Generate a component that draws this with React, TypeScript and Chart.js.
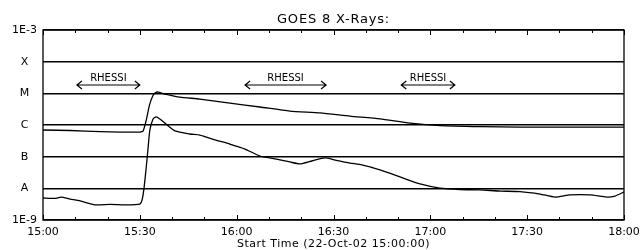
import React, { useEffect, useRef } from "react";
import { Chart, registerables } from "chart.js";

Chart.register(...registerables);

// minutes after 15:00
const longTimes = [0, 8.4, 17.7, 23.9, 30, 31, 32, 33, 34, 34.7, 35.6, 37.8, 42.4, 48.6, 57.9, 67.2, 76.5, 85.8, 95.1, 104.4, 113.7, 123, 135.4, 147.8, 166.4, 180];
const longFlux = [6.95e-7, 6.7e-7, 6.2e-7, 6.0e-7, 6.0e-7, 6.4e-7, 1.44e-6, 4.3e-6, 8.2e-6, 1.02e-5, 1.1e-5, 9.5e-6, 7.6e-6, 6.6e-6, 4.9e-6, 3.7e-6, 2.76e-6, 2.4e-6, 1.9e-6, 1.55e-6, 1.15e-6, 9.6e-7, 8.9e-7, 8.6e-7, 8.6e-7, 8.6e-7];

const shortTimes = [0, 3.7, 5.6, 8.4, 11.5, 16.1, 20.8, 25.4, 30, 30.7, 31.3, 31.9, 32.5, 33.1, 34.1, 35, 36.2, 38.1, 40.9, 45.5, 48.6, 53.3, 57.9, 62.6, 67.2, 71.9, 76.5, 79.6, 83.3, 87.4, 90.5, 95.1, 98.8, 104.4, 110.6, 116.8, 123, 129.2, 135.4, 141.6, 147.8, 154, 158.6, 163.3, 169.5, 174.7, 177.2, 180];
const shortFlux = [4.95e-9, 4.8e-9, 5.3e-9, 4.6e-9, 4.0e-9, 3.0e-9, 3.1e-9, 3.0e-9, 3.2e-9, 4.3e-9, 1.02e-8, 3.8e-8, 1.62e-7, 6.9e-7, 1.55e-6, 1.8e-6, 1.55e-6, 1.07e-6, 6.5e-7, 5.2e-7, 4.8e-7, 3.4e-7, 2.5e-7, 1.74e-7, 1.05e-7, 8.5e-8, 6.8e-8, 5.9e-8, 7.3e-8, 9.1e-8, 7.8e-8, 6.3e-8, 5.5e-8, 3.8e-8, 2.3e-8, 1.38e-8, 1.02e-8, 9.2e-9, 8.9e-9, 8.2e-9, 7.9e-9, 6.6e-9, 5.3e-9, 6.2e-9, 6.2e-9, 5.3e-9, 5.7e-9, 7.7e-9];

const yTickValues = [1e-9, 1e-8, 1e-7, 1e-6, 1e-5, 1e-4, 1e-3];
const yTickLabels = ["1E-9", "A", "B", "C", "M", "X", "1E-3"];
const xTickLabels = ["15:00", "15:30", "16:00", "16:30", "17:00", "17:30", "18:00"];

const rhessiStart = [10.5, 62.6, 111];
const rhessiEnd = [30, 87.7, 127.6];
const rhessiLevel = 1.83e-5;

const titleText = "GOES 8 X-Rays:";
const xTitleText = "Start Time (22-Oct-02 15:00:00)";

const FONT = "'DejaVu Sans', sans-serif";

export default function App() {
  const ref = useRef<HTMLCanvasElement | null>(null);
  useEffect(() => {
    const canvas = ref.current;
    if (!canvas) return;
    const decorations = {
      id: "decorations",
      afterDraw(chart: any) {
        const { ctx, chartArea } = chart;
        const xs = chart.scales.x;
        const ys = chart.scales.y;
        ctx.save();
        ctx.strokeStyle = "#000";
        ctx.fillStyle = "#000";
        // frame
        ctx.lineWidth = 1.3;
        ctx.strokeRect(chartArea.left, chartArea.top, chartArea.right - chartArea.left, chartArea.bottom - chartArea.top);
        // inward ticks
        ctx.lineWidth = 1;
        for (let m = 0; m <= 180; m += 10) {
          const px = Math.round(xs.getPixelForValue(m)) + 0.5;
          const len = m % 30 === 0 ? 5 : 3;
          ctx.beginPath();
          ctx.moveTo(px, chartArea.bottom);
          ctx.lineTo(px, chartArea.bottom - len);
          ctx.moveTo(px, chartArea.top);
          ctx.lineTo(px, chartArea.top + len);
          ctx.stroke();
        }
        // titles
        ctx.textAlign = "center";
        ctx.textBaseline = "middle";
        try { (ctx as any).letterSpacing = "0.8px"; } catch (e) {}
        ctx.font = "13px " + FONT;
        ctx.fillText(titleText, (chartArea.left + chartArea.right) / 2, 20);
        try { (ctx as any).letterSpacing = "0.5px"; } catch (e) {}
        ctx.font = "11px " + FONT;
        ctx.fillText(xTitleText, (chartArea.left + chartArea.right) / 2, 244);
        try { (ctx as any).letterSpacing = "0px"; } catch (e) {}
        // RHESSI arrows
        const py = ys.getPixelForValue(rhessiLevel);
        ctx.lineWidth = 1.2;
        ctx.font = "10px " + FONT;
        ctx.textBaseline = "alphabetic";
        for (let i = 0; i < rhessiStart.length; i++) {
          const x0 = xs.getPixelForValue(rhessiStart[i]);
          const x1 = xs.getPixelForValue(rhessiEnd[i]);
          ctx.beginPath();
          ctx.moveTo(x0, py);
          ctx.lineTo(x1, py);
          ctx.moveTo(x0 + 5, py - 4);
          ctx.lineTo(x0, py);
          ctx.lineTo(x0 + 5, py + 4);
          ctx.moveTo(x1 - 5, py - 4);
          ctx.lineTo(x1, py);
          ctx.lineTo(x1 - 5, py + 4);
          ctx.stroke();
          ctx.fillText("RHESSI", (x0 + x1) / 2, py - 4);
        }
        ctx.restore();
      },
    };
    const chart = new Chart(canvas, {
      type: "line",
      data: {
        datasets: [
          {
            data: longTimes.map((t, i) => ({ x: t, y: longFlux[i] })),
            borderColor: "#000",
            borderWidth: 1.3,
            pointRadius: 0,
            tension: 0.2,
          },
          {
            data: shortTimes.map((t, i) => ({ x: t, y: shortFlux[i] })),
            borderColor: "#000",
            borderWidth: 1.3,
            pointRadius: 0,
            tension: 0.2,
          },
        ],
      },
      options: {
        animation: false,
        responsive: false,
        devicePixelRatio: 1,
        layout: { padding: { left: 0, right: 17, top: 30, bottom: 0 } },
        plugins: { legend: { display: false }, tooltip: { enabled: false }, title: { display: false } },
        scales: {
          x: {
            type: "linear",
            min: 0,
            max: 180,
            grid: { display: false, drawTicks: false },
            border: { display: false },
            ticks: {
              stepSize: 30,
              autoSkip: false,
              maxRotation: 0,
              padding: 6,
              color: "#000",
              font: { family: FONT, size: 11 },
              callback: (v: any) => xTickLabels[Math.round(Number(v) / 30)] ?? "",
            },
            afterFit: (s: any) => {
              s.height = 30;
              s.paddingLeft = 0;
              s.paddingRight = 0;
            },
          },
          y: {
            type: "logarithmic",
            min: 1e-9,
            max: 1e-3,
            grid: { display: true, color: "#000", lineWidth: 1.5, drawTicks: false },
            border: { display: false },
            afterBuildTicks: (s: any) => {
              s.ticks = yTickValues.map((v) => ({ value: v }));
            },
            ticks: {
              autoSkip: false,
              padding: 6,
              crossAlign: "center",
              color: "#000",
              font: { family: FONT, size: 11 },
              callback: (v: any) => {
                const idx = yTickValues.findIndex((t) => Math.abs(Math.log10(t) - Math.log10(Number(v))) < 1e-6);
                return idx >= 0 ? yTickLabels[idx] : "";
              },
            },
            afterFit: (s: any) => {
              s.width = 43;
              s.paddingTop = 0;
              s.paddingBottom = 0;
            },
          },
        },
      },
      plugins: [decorations],
    });
    return () => chart.destroy();
  }, []);
  return (
    <div style={{ position: "fixed", left: 0, top: 0, width: 641, height: 250, background: "#fff" }}>
      <canvas ref={ref} width={641} height={250} style={{ width: 641, height: 250 }} />
    </div>
  );
}
